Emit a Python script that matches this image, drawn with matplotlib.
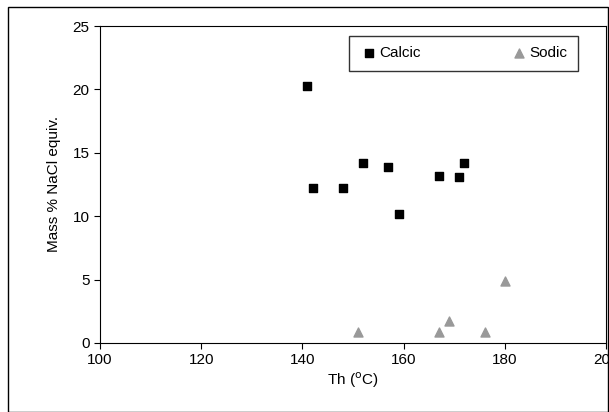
import matplotlib
matplotlib.use("Agg")
import matplotlib.pyplot as plt
from matplotlib.patches import Rectangle

plt.rcParams['font.family'] = ['Liberation Sans', 'DejaVu Sans']

calcic_th = [141, 142, 148, 152, 157, 159, 167, 171, 172]
calcic_mass = [20.3, 12.2, 12.2, 14.2, 13.9, 10.2, 13.2, 13.1, 14.2]
sodic_th = [151, 167, 169, 176, 180]
sodic_mass = [0.9, 0.9, 1.7, 0.9, 4.9]

fig = plt.figure(figsize=(6.09, 4.12), dpi=100)
ax = fig.add_axes([100/609, 1 - 343/412, 506/609, 317/412])

ax.scatter(calcic_th, calcic_mass, marker='s', s=36, color='black', label='Calcic')
ax.scatter(sodic_th, sodic_mass, marker='^', s=42, color='#999999', label='Sodic')

ax.set_xlim(100, 200)
ax.set_ylim(0, 25)
ax.set_xticks(range(100, 201, 20))
ax.set_yticks(range(0, 26, 5))
ax.tick_params(labelsize=11, direction='out', length=4)
ax.set_xlabel('Th ($^{\\rm o}$C)', fontsize=11, labelpad=2)
ax.set_ylabel('Mass % NaCl equiv.', fontsize=11, labelpad=8)

leg = ax.legend(loc='upper right', ncol=2, fontsize=11, frameon=True, fancybox=False,
                edgecolor='black', handletextpad=0.1, columnspacing=5.8,
                handlelength=1.2, borderpad=0.7,
                bbox_to_anchor=(0.945, 0.97), borderaxespad=0.0)
leg.get_frame().set_linewidth(1.0)

fig.patches.append(Rectangle((8/609, 0), 1 - 9/609, 1 - 7/412, transform=fig.transFigure,
                             fill=False, edgecolor='black', linewidth=1.0))

fig.savefig('out.png', dpi=100)
